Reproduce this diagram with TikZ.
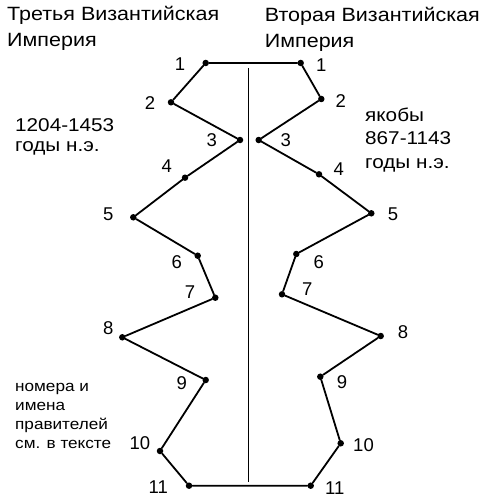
\documentclass[tikz,border=0pt]{standalone}
\usepackage{fontspec}
\setmainfont[FakeStretch=1.12]{Liberation Sans}
\newfontfamily\numfont{Liberation Sans}
\tikzset{
  dot/.style={circle,fill=black,inner sep=0pt,minimum size=6.5pt},
  num/.style={inner sep=0pt,font=\numfont\fontsize{18.5}{18.5}\selectfont},
  head/.style={inner sep=0pt,anchor=base west,align=left,font=\fontsize{19.2}{26}\selectfont},
  note/.style={inner sep=0pt,anchor=base west,align=left,font=\fontsize{18.5}{20}\selectfont},
  small/.style={inner sep=0pt,anchor=base west,align=left,font=\fontsize{15.3}{19}\selectfont},
  zig/.style={line width=1.8pt,line join=round,line cap=round}
}
\begin{document}
\begin{tikzpicture}[x=1pt,y=-1pt]
	\useasboundingbox (0,0) rectangle (486,500);
	% left side: third empire
	\node[dot] (l1) at (205.7,63) {};
	\node[dot] (l2) at (171,102.3) {};
	\node[dot] (l3) at (240,140) {};
	\node[dot] (l4) at (185,177.7) {};
	\node[dot] (l5) at (133.3,217.3) {};
	\node[dot] (l6) at (197.7,255.7) {};
	\node[dot] (l7) at (215.3,297.7) {};
	\node[dot] (l8) at (122.3,337.3) {};
	\node[dot] (l9) at (205.7,380) {};
	\node[dot] (l10) at (160,451) {};
	\node[dot] (l11) at (189,485.7) {};
	% right side: second empire
	\node[dot] (r1) at (300.7,63) {};
	\node[dot] (r2) at (321.3,99) {};
	\node[dot] (r3) at (258.7,140) {};
	\node[dot] (r4) at (319,174.3) {};
	\node[dot] (r5) at (371.3,213.3) {};
	\node[dot] (r6) at (296.3,254) {};
	\node[dot] (r7) at (282,294.3) {};
	\node[dot] (r8) at (380.7,336) {};
	\node[dot] (r9) at (320.3,376.7) {};
	\node[dot] (r10) at (340.7,443.3) {};
	\node[dot] (r11) at (310.7,485.7) {};
	\draw[zig] (r1) -- (l1) -- (l2) -- (l3) -- (l4) -- (l5) -- (l6) -- (l7) -- (l8) -- (l9) -- (l10) -- (l11) -- (r11);
	\draw[zig] (r1) -- (r2) -- (r3) -- (r4) -- (r5) -- (r6) -- (r7) -- (r8) -- (r9) -- (r10) -- (r11);
	% axis of symmetry
	\coordinate (top) at (248,68);
	\coordinate (bot) at (248,482);
	\draw[line width=1pt] (top) -- (bot);
	% numbers
	\node[num] (nl1) at (180,64) {1};
	\node[num] (nl2) at (150,103) {2};
	\node[num] (nl3) at (211.7,140) {3};
	\node[num] (nl4) at (166.7,166) {4};
	\node[num] (nl5) at (108.3,214) {5};
	\node[num] (nl6) at (176.7,261.7) {6};
	\node[num] (nl7) at (190,291.7) {7};
	\node[num] (nl8) at (108.3,328.3) {8};
	\node[num] (nl9) at (181.7,383.3) {9};
	\node[num] (nl10) at (140,443.3) {10};
	\node[num] (nl11) at (158.3,487.3) {11};
	\node[num] (nr1) at (321.3,65) {1};
	\node[num] (nr2) at (340.7,101) {2};
	\node[num] (nr3) at (285.7,140) {3};
	\node[num] (nr4) at (338.7,169.3) {4};
	\node[num] (nr5) at (393,214.3) {5};
	\node[num] (nr6) at (318.7,261.7) {6};
	\node[num] (nr7) at (307.3,289) {7};
	\node[num] (nr8) at (403,331.7) {8};
	\node[num] (nr9) at (342,382.3) {9};
	\node[num] (nr10) at (363.5,445.3) {10};
	\node[num] (nr11) at (334.7,488.3) {11};
	% texts (anchored at the baseline of their last line)
	\node[head] (third) at (7,46.7) {Третья Византийская\\Империя};
	\node[head] (second) at (264.7,48) {Вторая Византийская\\Империя};
	\node[note] (years3) at (15,151.7) {1204-1453\\годы н.э.};
	\node[note,font=\fontsize{18.5}{23.5}\selectfont] (years2) at (365,168.3) {якобы\\867-1143\\годы н.э.};
	\node[small] (rulers) at (15,448.3) {номера и\\имена\\правителей\\см. в тексте};
\end{tikzpicture}
\end{document}
